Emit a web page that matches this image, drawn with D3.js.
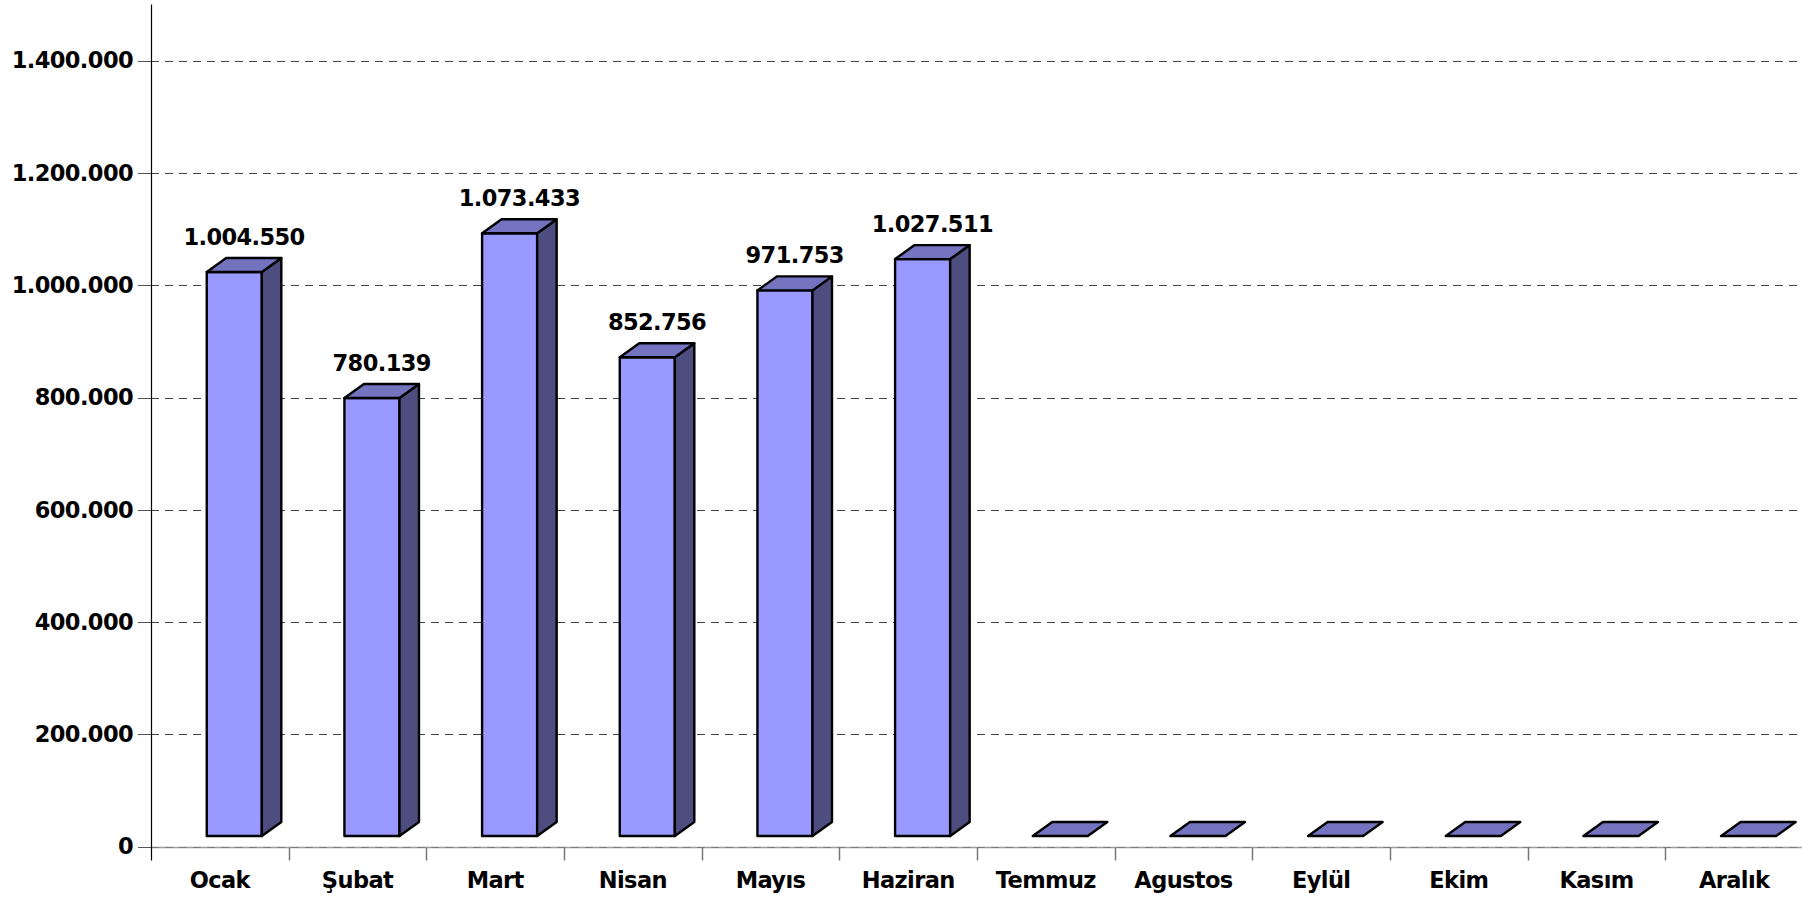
<!DOCTYPE html>
<html>
<head>
<meta charset="utf-8">
<script src="https://cdn.jsdelivr.net/npm/d3@7"></script>
<style>
	html, body { margin: 0; padding: 0; background: #fff; }
	svg text { font-family: 'DejaVu Sans', Verdana, sans-serif; font-weight: bold; fill: #000; letter-spacing: -0.6px; }
</style>
</head>
<body>
<div id="chart"></div>
<script>
var months = ['Ocak', 'Şubat', 'Mart', 'Nisan', 'Mayıs', 'Haziran', 'Temmuz', 'Agustos', 'Eylül', 'Ekim', 'Kasım', 'Aralık'];
var values = [1004550, 780139, 1073433, 852756, 971753, 1027511, 0, 0, 0, 0, 0, 0];
var yTicks = [0, 200000, 400000, 600000, 800000, 1000000, 1200000, 1400000];

var WIDTH = 1802,
	HEIGHT = 898,
	FONT = 22.5;

var margin = { left: 151, right: 0, top: 4.5, bottom: 51.3 },
	depthX = 19.5,
	depthY = 14,
	lift = 10.7;

var locale = d3.formatLocale({ decimal: ',', thousands: '.', grouping: [3], currency: ['', ''] });
var fmt = locale.format(',d');

var svg = d3.select('#chart').append('svg')
	.attr('width', WIDTH)
	.attr('height', HEIGHT);

var x = d3.scaleBand()
	.domain(months)
	.range([margin.left, WIDTH + 1]);

var y = d3.scaleLinear()
	.domain([0, 1500000])
	.range([HEIGHT - margin.bottom, margin.top]);

// gridlines + y labels
var yAxis = d3.axisLeft(y)
	.tickValues(yTicks)
	.tickSize(0)
	.tickPadding(18)
	.tickFormat(fmt);

var gy = svg.append('g')
	.attr('class', 'yAxis')
	.attr('transform', 'translate(' + margin.left + ',0)')
	.call(yAxis);
gy.select('.domain').remove();
gy.selectAll('text').style('font-size', FONT + 'px');

var grid = svg.append('g').attr('class', 'grid');
grid.selectAll('line.dash')
	.data(yTicks)
	.enter().append('line')
	.attr('class', 'dash')
	.attr('x1', margin.left)
	.attr('x2', WIDTH)
	.attr('y1', function (d) { return Math.round(y(d)) + 0.5; })
	.attr('y2', function (d) { return Math.round(y(d)) + 0.5; })
	.attr('stroke', '#444')
	.attr('stroke-width', 1)
	.attr('stroke-dasharray', '8,6');
grid.selectAll('line.tick')
	.data(yTicks)
	.enter().append('line')
	.attr('class', 'tick')
	.attr('x1', margin.left - 13)
	.attr('x2', margin.left)
	.attr('y1', function (d) { return Math.round(y(d)) + 0.5; })
	.attr('y2', function (d) { return Math.round(y(d)) + 0.5; })
	.attr('stroke', '#555')
	.attr('stroke-width', 1);

// x axis
var y0 = Math.round(y(0)) + 0.5;
svg.append('line')
	.attr('x1', margin.left)
	.attr('x2', WIDTH)
	.attr('y1', y0)
	.attr('y2', y0)
	.attr('stroke', '#888')
	.attr('stroke-width', 1.5)
	.attr('opacity', 0.8);

var xAxis = d3.axisBottom(x)
	.tickSize(0)
	.tickPadding(25);

var gx = svg.append('g')
	.attr('class', 'xAxis')
	.attr('transform', 'translate(0,' + y0 + ')')
	.call(xAxis);
gx.select('.domain').remove();
gx.selectAll('text').style('font-size', FONT + 'px');

svg.append('g').selectAll('line')
	.data(months)
	.enter().append('line')
	.attr('x1', function (d) { return Math.round(x(d) + x.bandwidth()) + 0.5; })
	.attr('x2', function (d) { return Math.round(x(d) + x.bandwidth()) + 0.5; })
	.attr('y1', y0)
	.attr('y2', y0 + 13)
	.attr('stroke', '#777')
	.attr('stroke-width', 1.5);

// y axis line
svg.append('line')
	.attr('x1', margin.left + 0.5)
	.attr('x2', margin.left + 0.5)
	.attr('y1', margin.top)
	.attr('y2', y0 + 13)
	.attr('stroke', '#000')
	.attr('stroke-width', 1.2);

// 3d bars
var data = months.map(function (m, i) { return { month: m, value: values[i] }; });
var bw = x.bandwidth() * 0.40;

var bars = svg.append('g').attr('class', 'bars')
	.selectAll('g')
	.data(data)
	.enter().append('g');

function pts(p) { return p.map(function (q) { return q.join(','); }).join(' '); }

bars.each(function (d) {
	var g = d3.select(this),
		x0 = x(d.month) + x.bandwidth() * 0.405,
		x1 = x0 + bw,
		yb = y(0) - lift,
		yt = y(d.value) - lift;

	if (d.value > 0) {
		g.append('rect')
			.attr('x', x0)
			.attr('y', yt)
			.attr('width', bw)
			.attr('height', yb - yt)
			.attr('fill', '#9999ff')
			.attr('stroke', '#000')
			.attr('stroke-width', 2.4)
			.attr('stroke-linejoin', 'round');

		g.append('polygon')
			.attr('points', pts([[x1, yb], [x1 + depthX, yb - depthY], [x1 + depthX, yt - depthY], [x1, yt]]))
			.attr('fill', '#4d4d80')
			.attr('stroke', '#000')
			.attr('stroke-width', 2.4)
			.attr('stroke-linejoin', 'round');
	}

	g.append('polygon')
		.attr('points', pts([[x0, yt], [x1, yt], [x1 + depthX, yt - depthY], [x0 + depthX, yt - depthY]]))
		.attr('fill', '#7373bf')
		.attr('stroke', '#000')
		.attr('stroke-width', 2.4)
		.attr('stroke-linejoin', 'round');

	if (d.value > 0) {
		g.append('text')
			.attr('x', x0 + (bw + depthX) / 2)
			.attr('y', yt - depthY - 13)
			.attr('text-anchor', 'middle')
			.style('font-size', FONT + 'px')
			.text(fmt(d.value));
	}
});
</script>
</body>
</html>
